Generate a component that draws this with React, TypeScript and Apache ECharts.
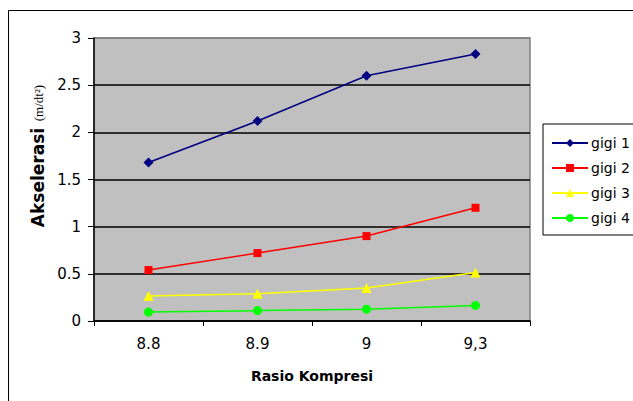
import React, { useEffect, useRef } from "react";
import * as echarts from "echarts";

const categories = ["8.8", "8.9", "9", "9,3"];
const gigi1 = [1.68, 2.12, 2.6, 2.83];
const gigi2 = [0.54, 0.72, 0.9, 1.2];
const gigi3 = [0.265, 0.29, 0.35, 0.515];
const gigi4 = [0.095, 0.11, 0.125, 0.165];
const seriesNames = ["gigi 1", "gigi 2", "gigi 3", "gigi 4"];
const colors = ["#000080", "#ff0000", "#ffff00", "#00ff00"];
const symbols = ["diamond", "rect", "triangle", "circle"];
const symbolSizes = [10, 8, 10, 9];
const xAxisTitle = "Rasio Kompresi";
const yAxisTitle = "Akselerasi";
const yAxisUnit = "(m/dt²)";

export default function App() {
  const ref = useRef<HTMLDivElement>(null);
  useEffect(() => {
    if (!ref.current) return;
    const chart = echarts.init(ref.current, null, { renderer: "svg" });
    const data = [gigi1, gigi2, gigi3, gigi4];
    const font = "DejaVu Sans, Liberation Sans, Arial, sans-serif";
    const serif = "Liberation Serif, Times New Roman, serif";
    chart.setOption({
      animation: false,
      backgroundColor: "#ffffff",
      textStyle: { fontFamily: font },
      graphic: [
        {
          type: "rect",
          shape: { x: 8.5, y: 10.5, width: 700, height: 500 },
          style: { fill: "none", stroke: "#000", lineWidth: 1 },
          z: 0,
        },
        {
          type: "text",
          x: 38,
          y: 156,
          rotation: Math.PI / 2,
          style: {
            text: "{a|" + yAxisTitle + "}  {b|" + yAxisUnit + "}",
            align: "center",
            verticalAlign: "middle",
            rich: {
              a: { fontFamily: font, fontSize: 17, fontWeight: "bold", fill: "#000", color: "#000" },
              b: { fontFamily: serif, fontSize: 13, fill: "#000", color: "#000" },
            },
          },
          z: 10,
        },
      ],
      grid: {
        left: 94,
        top: 38,
        width: 436,
        height: 283,
        show: true,
        backgroundColor: "#c0c0c0",
        borderColor: "#808080",
        borderWidth: 1.5,
      },
      legend: {
        orient: "vertical",
        left: 543,
        top: 124,
        padding: [12, 6, 10, 8],
        itemGap: 11,
        itemWidth: 36,
        itemHeight: 10,
        borderColor: "#000",
        borderWidth: 1,
        backgroundColor: "#fff",
        textStyle: { fontFamily: font, fontSize: 14, color: "#000", padding: [0, 0, 0, -2] },
        data: seriesNames,
      },
      xAxis: {
        type: "category",
        data: categories,
        boundaryGap: true,
        name: xAxisTitle,
        nameLocation: "middle",
        nameGap: 48,
        nameTextStyle: { fontFamily: font, fontSize: 14, fontWeight: "bold", color: "#000" },
        axisLine: { lineStyle: { color: "#000", width: 1.5 } },
        axisTick: { show: true, length: 5, alignWithLabel: false, lineStyle: { color: "#000" } },
        axisLabel: { fontFamily: font, fontSize: 15, color: "#000", margin: 15 },
        splitLine: { show: false },
      },
      yAxis: {
        type: "value",
        min: 0,
        max: 3,
        interval: 0.5,
        axisLine: { show: true, lineStyle: { color: "#000", width: 1.5 } },
        axisTick: { show: true, length: 6, lineStyle: { color: "#000" } },
        axisLabel: { fontFamily: font, fontSize: 15, color: "#000", margin: 13 },
        splitLine: {
          show: true,
          lineStyle: {
            color: ["#000", "#000", "#000", "#000", "#000", "#000", "#808080"],
            width: 1.5,
          },
        },
      },
      series: data.map((d, i) => ({
        name: seriesNames[i],
        type: "line",
        data: d,
        symbol: symbols[i],
        symbolSize: symbolSizes[i],
        showAllSymbol: true,
        itemStyle: { color: colors[i] },
        lineStyle: { color: colors[i], width: 1.5 },
      })),
    });
    return () => chart.dispose();
  }, []);
  return (
    <div
      ref={ref}
      style={{ position: "fixed", left: 0, top: 0, width: 633, height: 401 }}
    />
  );
}
